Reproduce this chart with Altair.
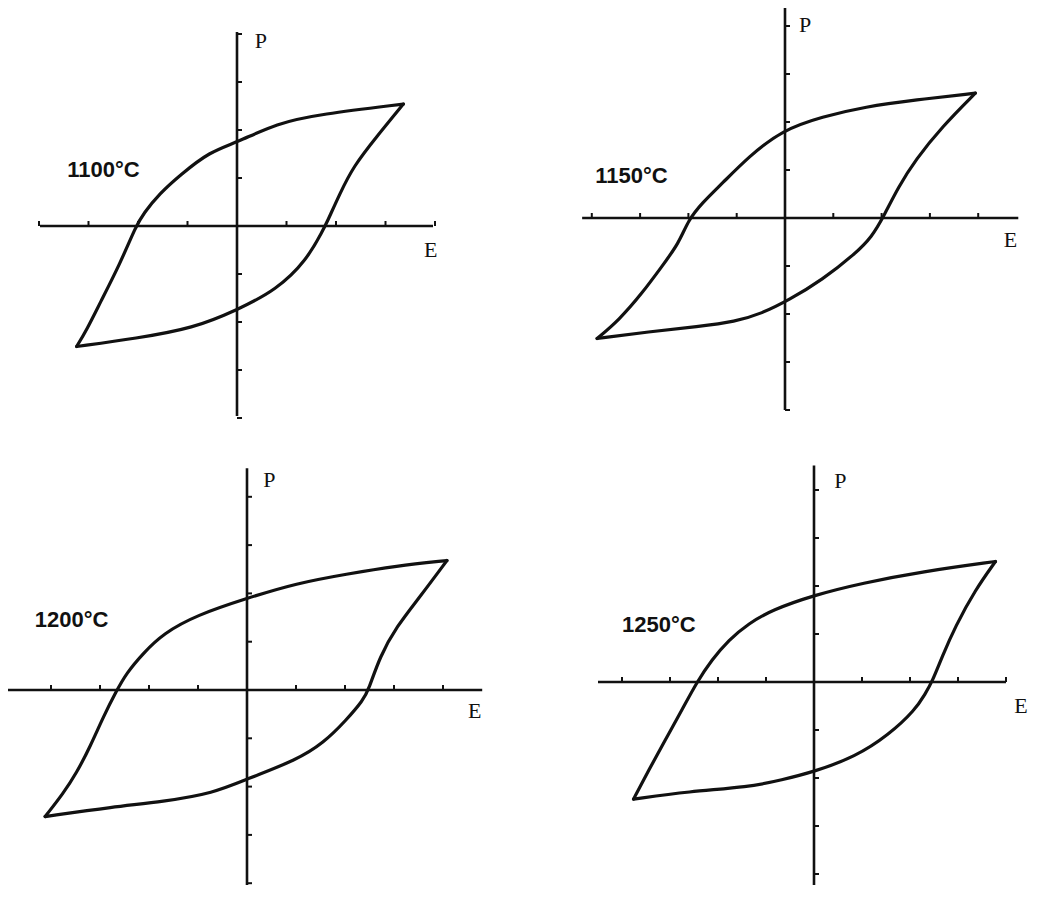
import altair as alt
import pandas as pd

# ---------------- data (E, P in tick units) ----------------
TEMPS = ["1100°C", "1150°C", "1200°C", "1250°C"]

# Panel 1 : 1100 C  (upper = descending branch, lower = ascending branch)
L1_UP_E = [3.36, 1.68, 0.80, 0.0, -0.55, -1.15, -1.56, -1.89, -2.04, -2.36, -2.77, -3.04, -3.24]
L1_UP_P = [2.54, 2.33, 2.14, 1.74, 1.55, 1.06, 0.68, 0.26, 0.00, -0.78, -1.61, -2.17, -2.51]
L1_LO_E = [-3.24, -2.03, -0.88, 0.0, 0.80, 1.41, 1.74, 1.81, 2.08, 2.35, 2.82, 3.36]
L1_LO_P = [-2.51, -2.34, -2.13, -1.75, -1.33, -0.71, -0.08, 0.06, 0.68, 1.24, 1.86, 2.54]

# Panel 2 : 1150 C
L2_UP_E = [3.94, 2.70, 1.66, 0.77, -0.06, -0.75, -1.30, -1.72, -2.00, -2.20, -2.55, -2.96, -3.44, -3.89]
L2_UP_P = [2.60, 2.46, 2.32, 2.11, 1.83, 1.28, 0.72, 0.31, -0.04, -0.53, -1.01, -1.57, -2.13, -2.51]
L2_LO_E = [-3.89, -2.82, -1.79, -1.03, -0.48, 0.08, 0.77, 1.46, 1.80, 2.04, 2.35, 2.70, 3.25, 3.94]
L2_LO_P = [-2.51, -2.37, -2.26, -2.16, -1.99, -1.71, -1.29, -0.74, -0.39, 0.03, 0.65, 1.21, 1.90, 2.60]

# Panel 3 : 1200 C
L3_UP_E = [4.08, 3.05, 2.03, 1.01, 0.0, -1.03, -1.71, -2.12, -2.46, -2.67, -2.93, -3.20, -3.48, -3.75, -4.12]
L3_UP_P = [2.68, 2.57, 2.40, 2.21, 1.90, 1.55, 1.17, 0.76, 0.35, -0.03, -0.55, -1.17, -1.72, -2.14, -2.62]
L3_LO_E = [-4.12, -2.73, -1.71, -0.69, 0.03, 1.01, 1.56, 2.03, 2.37, 2.48, 2.71, 3.05, 3.53, 4.08]
L3_LO_P = [-2.62, -2.42, -2.31, -2.14, -1.83, -1.45, -1.10, -0.62, -0.21, 0.00, 0.69, 1.31, 1.93, 2.68]

# Panel 4 : 1250 C
L4_UP_E = [3.78, 2.25, 1.00, 0.0, -0.88, -1.36, -1.78, -2.13, -2.44, -2.75, -3.10, -3.44, -3.76]
L4_UP_P = [2.51, 2.30, 2.06, 1.81, 1.50, 1.22, 0.875, 0.46, 0.00, -0.58, -1.21, -1.83, -2.44]
L4_LO_E = [-3.76, -2.61, -1.36, -0.67, 0.0, 0.86, 1.56, 2.11, 2.32, 2.46, 2.67, 2.94, 3.36, 3.78]
L4_LO_P = [-2.44, -2.28, -2.19, -2.04, -1.87, -1.56, -1.10, -0.58, -0.24, 0.00, 0.53, 1.15, 1.92, 2.51]

TICKS = [-4, -3, -2, -1, 1, 2, 3, 4]

INK = "#111111"


def panel(up_e, up_p, lo_e, lo_p, temp, origin, unit, box, xaxis, yaxis,
          p_pos, e_pos, t_pos):
    (ox, oy), (ux, uy), (L, T, W, H) = origin, unit, box
    xdom = [(L - ox) / ux, (L + W - ox) / ux]
    ydom = [(oy - (T + H)) / uy, (oy - T) / uy]
    xs = alt.Scale(domain=xdom, nice=False, zero=False)
    ys = alt.Scale(domain=ydom, nice=False, zero=False)

    rows = []
    for e, p in zip(up_e, up_p):
        rows.append({"E": e, "P": p, "branch": "up"})
    for e, p in zip(lo_e, lo_p):
        rows.append({"E": e, "P": p, "branch": "lo"})
    loop_df = pd.DataFrame(rows)

    tl_y = 5.0 / uy
    tl_x = 5.0 / ux
    seg = [
        {"x": xaxis[0], "x2": xaxis[1], "y": 0, "y2": 0, "w": 2.6},
        {"x": 0, "x2": 0, "y": yaxis[0], "y2": yaxis[1], "w": 2.6},
    ]
    for t in TICKS:
        if xaxis[0] - 0.05 <= t <= xaxis[1] + 0.05:
            seg.append({"x": t, "x2": t, "y": 0, "y2": tl_y, "w": 2.0})
        seg.append({"x": 0, "x2": tl_x, "y": t, "y2": t, "w": 2.0})
    seg_df = pd.DataFrame(seg)

    rules = alt.Chart(seg_df).mark_rule(color=INK, clip=True, strokeCap="butt").encode(
        x=alt.X("x:Q", scale=xs, axis=None),
        x2="x2:Q",
        y=alt.Y("y:Q", scale=ys, axis=None),
        y2="y2:Q",
        strokeWidth=alt.StrokeWidth("w:Q", scale=None),
    )

    loop = alt.Chart(loop_df).mark_line(
        color=INK, strokeWidth=3.2, interpolate="basis",
        strokeJoin="round", strokeCap="round", clip=True,
    ).encode(
        x=alt.X("E:Q", scale=xs, axis=None),
        y=alt.Y("P:Q", scale=ys, axis=None),
        detail="branch:N",
    )

    serif_df = pd.DataFrame([
        {"x": p_pos[0], "y": p_pos[1], "t": "P"},
        {"x": e_pos[0], "y": e_pos[1], "t": "E"},
    ])
    serif = alt.Chart(serif_df).mark_text(
        font="Liberation Serif", fontSize=22, align="left", baseline="alphabetic",
        color=INK,
    ).encode(
        x=alt.X("x:Q", scale=xs, axis=None),
        y=alt.Y("y:Q", scale=ys, axis=None),
        text="t:N",
    )

    temp_df = pd.DataFrame([{"x": t_pos[0], "y": t_pos[1], "t": temp}])
    tlabel = alt.Chart(temp_df).mark_text(
        font="Liberation Sans", fontSize=22, fontWeight="bold", align="left",
        baseline="alphabetic", color=INK,
    ).encode(
        x=alt.X("x:Q", scale=xs, axis=None),
        y=alt.Y("y:Q", scale=ys, axis=None),
        text="t:N",
    )

    return alt.layer(rules, loop, serif, tlabel).properties(width=W, height=H)


p1 = panel(L1_UP_E, L1_UP_P, L1_LO_E, L1_LO_P, TEMPS[0],
           origin=(237, 226), unit=(49.5, 48), box=(8, 8, 492, 427),
           xaxis=(-3.98, 3.96), yaxis=(-3.96, 4.04),
           p_pos=(0.36, 3.71), e_pos=(3.78, -0.65), t_pos=(-3.43, 1.02))
p2 = panel(L2_UP_E, L2_UP_P, L2_LO_E, L2_LO_P, TEMPS[1],
           origin=(793, 218), unit=(48.3, 48), box=(528, 8, 508, 427),
           xaxis=(-4.2, 4.83), yaxis=(-4.0, 4.4),
           p_pos=(0.29, 3.875), e_pos=(4.53, -0.6), t_pos=(-3.93, 0.73))
p3 = panel(L3_UP_E, L3_UP_P, L3_LO_E, L3_LO_P, TEMPS[2],
           origin=(247, 690), unit=(49, 48.3), box=(8, 445, 492, 440),
           xaxis=(-4.93, 4.8), yaxis=(-4.24, 4.59),
           p_pos=(0.33, 4.2), e_pos=(4.51, -0.58), t_pos=(-4.33, 1.30))
p4 = panel(L4_UP_E, L4_UP_P, L4_LO_E, L4_LO_P, TEMPS[3],
           origin=(822, 682), unit=(48, 48), box=(528, 445, 508, 440),
           xaxis=(-4.5, 4.0), yaxis=(-4.6, 4.51),
           p_pos=(0.42, 4.04), e_pos=(4.17, -0.65), t_pos=(-4.0, 1.04))

chart = alt.concat(
    p1, p2, p3, p4, columns=2,
    spacing=alt.RowColnumber(row=10, column=20), bounds="flush",
).resolve_scale(x="independent", y="independent").properties(
    padding=0, background="white"
).configure_view(stroke=None)

chart.save("out.html", embed_options={"renderer": "svg", "actions": False})
